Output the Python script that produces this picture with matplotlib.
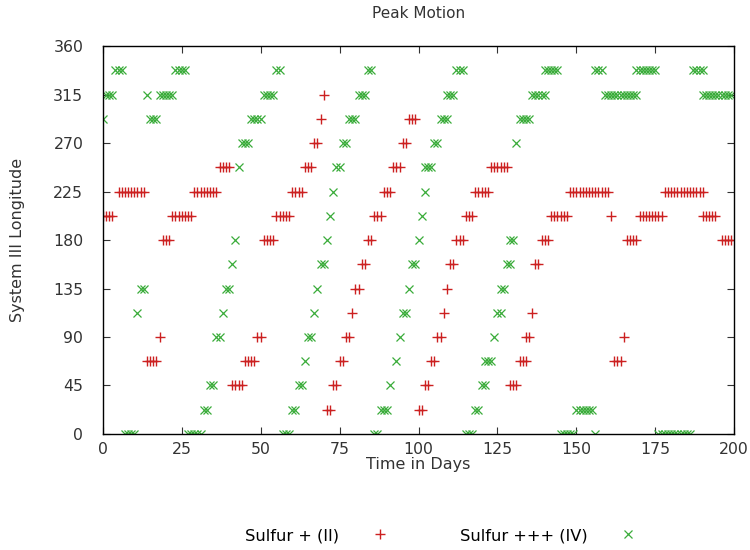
import matplotlib
matplotlib.use("Agg")
import matplotlib.pyplot as plt

# Sulfur + (II): day, longitude (deg)
s2_days = [
    0, 1, 2, 3,
    5, 6, 7, 8, 9, 10, 11, 12, 13,
    14, 15, 16, 17,
    18,
    19, 20, 21,
    22, 23, 24, 25, 26, 27, 28,
    29, 30, 31, 32, 33, 34, 35, 36,
    37, 38, 39, 40,
    41, 42, 43, 44,
    45, 46, 47, 48,
    49, 50,
    51, 52, 53, 54,
    55, 56, 57, 58, 59,
    60, 61, 62, 63,
    64, 65, 66,
    67, 68,
    69, 70,
    71, 72, 73, 74, 75, 76, 77, 78, 79, 80, 81, 82, 83,
    84, 85, 86, 87, 88, 89, 90, 91,
    92, 93, 94, 95, 96, 97, 98, 99,
    100, 101, 102, 103, 104, 105, 106, 107, 108, 109, 110, 111,
    112, 113, 114, 115, 116, 117,
    118, 119, 120, 121, 122,
    123, 124, 125, 126, 127, 128,
    129, 130, 131, 132, 133, 134, 134, 135,
    136, 137, 138,
    139, 140, 141,
    142, 143, 144, 145, 146, 147,
    148, 149, 150, 151, 152, 153, 154, 155, 156, 157, 158, 159, 160,
    161, 162, 163, 164, 165,
    166, 167, 168, 169,
    170, 171, 172, 173, 174, 175, 176, 177,
    178, 179, 180, 181, 182, 183, 184, 185, 186, 187, 188, 189, 190,
    190, 191, 192, 193, 194,
    196, 197, 198, 199,
]
s2_lon = [
    202.5, 202.5, 202.5, 202.5,
    225, 225, 225, 225, 225, 225, 225, 225, 225,
    67.5, 67.5, 67.5, 67.5,
    90,
    180, 180, 180,
    202.5, 202.5, 202.5, 202.5, 202.5, 202.5, 202.5,
    225, 225, 225, 225, 225, 225, 225, 225,
    247.5, 247.5, 247.5, 247.5,
    45, 45, 45, 45,
    67.5, 67.5, 67.5, 67.5,
    90, 90,
    180, 180, 180, 180,
    202.5, 202.5, 202.5, 202.5, 202.5,
    225, 225, 225, 225,
    247.5, 247.5, 247.5,
    270, 270,
    292.5, 315,
    22.5, 22.5, 45, 45, 67.5, 67.5, 90, 90, 112.5, 135, 135, 157.5, 157.5,
    180, 180, 202.5, 202.5, 202.5, 225, 225, 225,
    247.5, 247.5, 247.5, 270, 270, 292.5, 292.5, 292.5,
    22.5, 22.5, 45, 45, 67.5, 67.5, 90, 90, 112.5, 135, 157.5, 157.5,
    180, 180, 180, 202.5, 202.5, 202.5,
    225, 225, 225, 225, 225,
    247.5, 247.5, 247.5, 247.5, 247.5, 247.5,
    45, 45, 45, 67.5, 67.5, 67.5, 90, 90,
    112.5, 157.5, 157.5,
    180, 180, 180,
    202.5, 202.5, 202.5, 202.5, 202.5, 202.5,
    225, 225, 225, 225, 225, 225, 225, 225, 225, 225, 225, 225, 225,
    202.5, 67.5, 67.5, 67.5, 90,
    180, 180, 180, 180,
    202.5, 202.5, 202.5, 202.5, 202.5, 202.5, 202.5, 202.5,
    225, 225, 225, 225, 225, 225, 225, 225, 225, 225, 225, 225, 225,
    202.5, 202.5, 202.5, 202.5, 202.5,
    180, 180, 180, 180,
]

# Sulfur +++ (IV): day, longitude (deg)
s4_days = [
    0, 1, 2, 3, 4, 5, 6,
    7, 8, 9, 10, 11, 12, 13, 14,
    15, 16, 17,
    18, 19, 20, 21, 22,
    23, 24, 25, 26,
    27, 28, 29, 30, 31,
    32, 33, 34, 35, 36, 37, 38, 39, 40, 41, 42, 43,
    44, 45, 46, 47, 48, 49, 50,
    51, 52, 53, 54, 55, 56,
    57, 58, 59, 60, 61, 62, 63, 64, 65, 66, 67, 68, 69, 70,
    71, 72, 73, 74, 75, 76, 77,
    78, 79, 80, 81, 82, 83, 84, 85,
    86, 87, 88, 89, 90, 91, 93, 94, 95, 96, 97, 98, 99,
    100, 101, 102, 102, 103, 104, 105, 106,
    107, 108, 109, 109, 110, 111, 112, 113, 114,
    115, 116, 117, 118, 119, 120, 121, 121, 122, 123,
    124, 125, 126, 126, 127, 128, 129, 129, 130, 131,
    132, 133, 134, 135, 136, 137, 138, 139, 140,
    140, 141, 142, 143, 144,
    145, 146, 147, 148, 149,
    150, 151, 152, 153, 154, 155,
    156, 156, 157, 158,
    159, 160, 161, 162, 163, 164, 165, 166, 167, 168, 169,
    169, 170, 171, 172, 173, 174, 175,
    176, 177, 178, 179, 180, 181, 182, 183, 184, 185, 186,
    187, 188, 189, 190,
    190, 191, 192, 193, 194, 195, 196, 197, 198, 199,
]
s4_lon = [
    292.5, 315, 315, 315, 337.5, 337.5, 337.5,
    0, 0, 0, 0, 112.5, 135, 135, 315,
    292.5, 292.5, 292.5,
    315, 315, 315, 315, 315,
    337.5, 337.5, 337.5, 337.5,
    0, 0, 0, 0, 0,
    22.5, 22.5, 45, 45, 90, 90, 112.5, 135, 135, 157.5, 180, 247.5,
    270, 270, 270, 292.5, 292.5, 292.5, 292.5,
    315, 315, 315, 315, 337.5, 337.5,
    0, 0, 0, 22.5, 22.5, 45, 45, 67.5, 90, 90, 112.5, 135, 157.5, 157.5,
    180, 202.5, 225, 247.5, 247.5, 270, 270,
    292.5, 292.5, 292.5, 315, 315, 315, 337.5, 337.5,
    0, 0, 22.5, 22.5, 22.5, 45, 67.5, 90, 112.5, 112.5, 135, 157.5, 157.5,
    180, 202.5, 225, 247.5, 247.5, 247.5, 270, 270,
    292.5, 292.5, 292.5, 315, 315, 315, 337.5, 337.5, 337.5,
    0, 0, 0, 22.5, 22.5, 45, 45, 67.5, 67.5, 67.5,
    90, 112.5, 112.5, 135, 135, 157.5, 157.5, 180, 180, 270,
    292.5, 292.5, 292.5, 292.5, 315, 315, 315, 315, 315,
    337.5, 337.5, 337.5, 337.5, 337.5,
    0, 0, 0, 0, 0,
    22.5, 22.5, 22.5, 22.5, 22.5, 22.5,
    0, 337.5, 337.5, 337.5,
    315, 315, 315, 315, 315, 315, 315, 315, 315, 315, 315,
    337.5, 337.5, 337.5, 337.5, 337.5, 337.5, 337.5,
    0, 0, 0, 0, 0, 0, 0, 0, 0, 0, 0,
    337.5, 337.5, 337.5, 337.5,
    315, 315, 315, 315, 315, 315, 315, 315, 315, 315,
]

x_ticks = [0, 25, 50, 75, 100, 125, 150, 175, 200]
y_ticks = [0, 45, 90, 135, 180, 225, 270, 315, 360]

plt.rcParams['font.family'] = ['DejaVu Sans']

fig = plt.figure(figsize=(7.5, 5.5), dpi=100)
ax = fig.add_axes([0.137, 0.211, 0.842, 0.705])

ax.plot(s2_days, s2_lon, linestyle='none', marker='+', markersize=7,
        markeredgewidth=1.0, color='#cc2020', label='Sulfur + (II)')
ax.plot(s4_days, s4_lon, linestyle='none', marker='x', markersize=6,
        markeredgewidth=0.9, color='#3aac3a', label='Sulfur +++ (IV)')

ax.set_xlim(0, 200)
ax.set_ylim(0, 360)
ax.set_xticks(x_ticks)
ax.set_yticks(y_ticks)
ax.tick_params(direction='in', top=True, right=True, length=5,
               labelsize=11.3, colors='#333333')
ax.tick_params(axis='y', pad=14)
ax.tick_params(axis='x', pad=6)
for s in ax.spines.values():
    s.set_linewidth(1.0)

ax.set_title('Peak Motion', fontsize=11, color='#333333', pad=20)
ax.set_xlabel('Time in Days', fontsize=11.5, color='#333333', labelpad=0)
ax.set_ylabel('System III Longitude', fontsize=11.5, color='#333333', labelpad=20)

ax.legend(loc='upper center', bbox_to_anchor=(0.535, -0.205), ncol=2,
          frameon=False, markerfirst=False, fontsize=11.7,
          handletextpad=2.0, columnspacing=4.4, handlelength=1.0)

fig.savefig('out.png', dpi=100)
